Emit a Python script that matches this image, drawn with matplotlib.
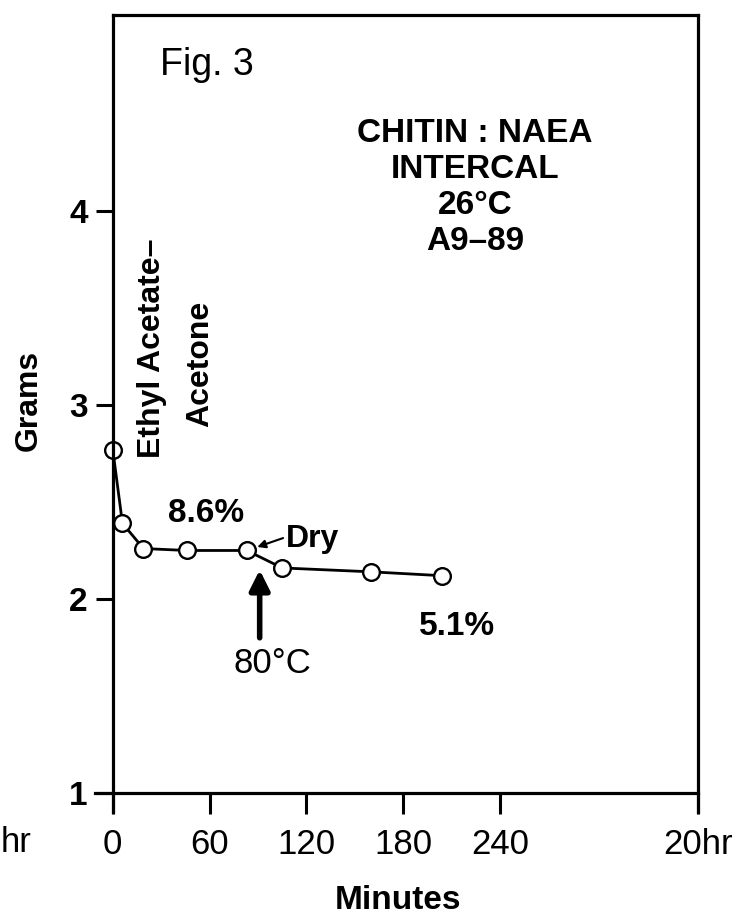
import matplotlib
matplotlib.use('Agg')
import matplotlib.pyplot as plt

plt.rcParams['font.family'] = ['Liberation Sans', 'DejaVu Sans']

# data
minutes = [0, 6, 19, 46, 83, 105, 160, 204]
grams = [2.77, 2.39, 2.26, 2.25, 2.25, 2.16, 2.14, 2.12]

x_ticks = [0, 60, 120, 180, 240, 362.5]
x_tick_labels = ['0', '60', '120', '180', '240', '20hr']
y_ticks = [1, 2, 3, 4]
y_tick_labels = ['1', '2', '3', '4']

fig = plt.figure(figsize=(7.42, 9.18), dpi=100)
ax = fig.add_axes([95 / 742, 1 - 812.4 / 918, 603 / 742, 797.4 / 918])

ax.plot(minutes, grams, color='black', lw=2.0, zorder=2,
        marker='o', ms=12, mfc='white', mec='black', mew=1.7,
        clip_on=False)

ax.set_xlim(-11, 362.5)
ax.set_ylim(0.9, 5.01)

# frame like the hand drawn original
for s in ax.spines.values():
    s.set_linewidth(2.3)
ax.spines['left'].set_position(('data', 0))
ax.spines['bottom'].set_position(('data', 1))
ax.spines['top'].set_bounds(0, 362.5)

ax.set_xticks(x_ticks)
ax.set_xticklabels(x_tick_labels)
ax.set_yticks(y_ticks)
ax.set_yticklabels(y_tick_labels)
ax.tick_params(axis='x', direction='out', length=15, width=2.2, pad=10,
               labelsize=25)
ax.tick_params(axis='y', direction='out', length=12, width=2.2, pad=6,
               labelsize=24)
for t in ax.get_yticklabels():
    t.set_fontweight('bold')

ax.set_xlabel('Minutes', fontsize=24, fontweight='bold')
ax.xaxis.set_label_coords(0.5025, -0.091)
ax.set_ylabel('Grams', fontsize=23, fontweight='bold')
ax.yaxis.set_label_coords(-0.085, 0.517)

# annotations
ax.text(58, 4.75, 'Fig. 3', fontsize=27, ha='center', va='center')
ax.text(224.5, 4.12, 'CHITIN : NAEA\nINTERCAL\n26°C\nA9\u201389',
        fontsize=24, fontweight='bold', ha='center', va='center',
        linespacing=1.2)
ax.text(24, 3.29, 'Ethyl Acetate\u2013', rotation=90, fontsize=23,
        fontweight='bold', ha='center', va='center')
ax.text(54, 3.21, 'Acetone', rotation=90, fontsize=23,
        fontweight='bold', ha='center', va='center')
ax.text(58, 2.44, '8.6%', fontsize=24, fontweight='bold',
        ha='center', va='center')
ax.text(107.5, 2.31, 'Dry', fontsize=23, fontweight='bold',
        ha='left', va='center')
ax.annotate('', xy=(89.5, 2.268), xytext=(105.5, 2.314),
            arrowprops=dict(arrowstyle='-|>', color='black', lw=1.5,
                            mutation_scale=12, shrinkA=0, shrinkB=0))
ax.annotate('', xy=(91, 2.15), xytext=(91, 1.80),
            arrowprops=dict(arrowstyle='-|>', color='black', lw=4,
                            mutation_scale=30, shrinkA=0, shrinkB=0))
ax.text(99, 1.67, '80°C', fontsize=25, ha='center', va='center')
ax.text(213, 1.86, '5.1%', fontsize=24, fontweight='bold',
        ha='center', va='center')

# label remnant at the far left edge
fig.text(1 / 742, 1 - 842 / 918, 'hr', fontsize=25, ha='left',
         va='center')

fig.savefig('out.png', dpi=100)
